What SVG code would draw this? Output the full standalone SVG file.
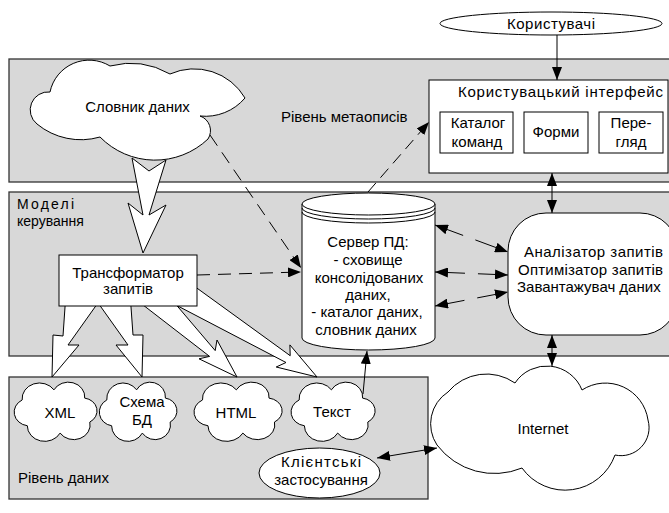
<svg xmlns="http://www.w3.org/2000/svg" width="669" height="513" viewBox="0 0 669 513">
<style>
.band{fill:#d8d8d8;stroke:#333;stroke-width:1.3}
.box{fill:#fff;stroke:#000;stroke-width:1}
.blk{fill:#fff;stroke:#000;stroke-width:1;stroke-linejoin:miter}
.t{font-family:"Liberation Sans",Arial,sans-serif;font-size:15px;fill:#000}
.s{font-size:14px}
.m{text-anchor:middle}
.ln{fill:none;stroke:#000;stroke-width:1}
.d1{stroke-dasharray:13,8}
.d2{stroke-dasharray:12,7}
.d3{stroke-dasharray:30,13}
</style>
<defs>
<marker id="ah" viewBox="0 0 13 10" refX="13" refY="5" markerWidth="13" markerHeight="10" markerUnits="userSpaceOnUse" orient="auto-start-reverse">
<path d="M0,0 L13,5 L0,10 z" fill="#000" stroke="none"/>
</marker>
<path id="sc" d="M-33,-12 A17,17 0 0 1 -2,-23 A16,16 0 0 1 28,-14 A14,14 0 0 1 33,12 A16,16 0 0 1 4,24 A17,17 0 0 1 -28,16 A15,15 0 0 1 -33,-12 Z" fill="#fff" stroke="#000" stroke-width="1" vector-effect="non-scaling-stroke"/>
</defs>

<g id="bands">
<rect id="band-meta" class="band" x="9" y="59" width="670" height="123"/>
<rect id="band-models" class="band" x="9" y="192" width="670" height="164"/>
<rect id="band-data" class="band" x="9" y="377" width="419" height="122"/>
<text class="t" x="281" y="122">Рівень метаописів</text>
<text class="t s" x="17" y="209" textLength="57">Моделі</text>
<text class="t s" x="17" y="226">керування</text>
<text class="t" x="18" y="483">Рівень даних</text>
</g>

<g id="block-arrows">
<polygon class="blk" points="132,158 143,215 128,203 143,253 166,205 149,215 166,160 149,171"/>
<polygon class="blk" points="65.5,300 63,336 53,335 52,377 79,345 68,345 100,300"/>
<polygon class="blk" points="96,300 128,345 116,345 142,377 143,335 133,335 130.5,300"/>
<polygon class="blk" points="159,284.6 215.2,350.6 217,340 237,377 199,358.8 209.6,356.4 141,303.4"/>
<polygon class="blk" points="189.9,283 290.2,355.7 289.9,344.9 317,377 276.2,367 286,362.5 176.1,305.1"/>
</g>

<g id="users">
<ellipse class="box" cx="551" cy="23.5" rx="111" ry="11.5"/>
<text class="t m" x="551" y="28.5" textLength="88">Користувачі</text>
</g>

<g id="ui">
<rect class="box" x="429" y="80" width="239" height="93"/>
<text class="t" x="458" y="97" textLength="205">Користувацький інтерфейс</text>
</g>
<g id="ui-catalog">
<rect class="box" x="440" y="112" width="73" height="41"/>
<text class="t m" x="478" y="128">Каталог</text>
<text class="t m" x="477" y="147">команд</text>
</g>
<g id="ui-forms">
<rect class="box" x="524" y="112" width="64" height="41"/>
<text class="t m" x="556" y="137">Форми</text>
</g>
<g id="ui-view">
<rect class="box" x="599" y="112" width="64" height="41"/>
<text class="t m" x="631" y="128">Пере-</text>
<text class="t m" x="631" y="147">гляд</text>
</g>

<g id="dictionary">
<path class="box" d="M37,124 A18,18 0 0 1 50,92 A40,40 0 0 1 110,66 A80,80 0 0 1 170,74 A59,59 0 0 1 245,98 A52,52 0 0 1 200,116 A15.4,15.4 0 0 1 208,139 A77,77 0 0 1 100,137 A69,69 0 0 1 37,124 Z"/>
<text class="t m" x="137.5" y="112">Словник даних</text>
</g>

<g id="transformer">
<rect class="box" x="59" y="255" width="138" height="51"/>
<text class="t m" x="128" y="278">Трансформатор</text>
<text class="t m" x="128" y="294">запитів</text>
</g>

<g id="server">
<path class="box" d="M302,204 L302,338 A66.5,12 0 0 0 435,338 L435,204 Z"/>
<ellipse class="box" cx="368.5" cy="204" rx="66.5" ry="11"/>
<path class="ln" d="M302,208 A66.5,11 0 0 0 435,208 M302,212 A66.5,11 0 0 0 435,212"/>
<text class="t m" x="368" y="247">Сервер ПД:</text>
<text class="t m" x="368" y="265">- сховище</text>
<text class="t m" x="369" y="283">консолідованих</text>
<text class="t m" x="368" y="300">даних,</text>
<text class="t m" x="367" y="317">- каталог даних,</text>
<text class="t m" x="366" y="335">словник даних</text>
</g>

<g id="analyzer">
<rect class="box" x="508" y="213" width="170" height="122" rx="38" ry="38"/>
<text class="t" x="524" y="257" textLength="139">Аналізатор запитів</text>
<text class="t" x="518" y="275" textLength="145">Оптимізатор запитів</text>
<text class="t" x="517" y="292">Завантажувач даних</text>
</g>

<g id="cloud-xml">
<use href="#sc" transform="translate(56,411) scale(1.025,0.92)"/>
<text class="t m" x="60" y="418">XML</text>
</g>
<g id="cloud-schema">
<use href="#sc" transform="translate(138.5,411) scale(0.96,0.92)"/>
<text class="t m" x="142" y="407">Схема</text>
<text class="t m" x="142" y="425">БД</text>
</g>
<g id="cloud-html">
<use href="#sc" transform="translate(238.5,411) scale(1.09,0.92)"/>
<text class="t m" x="236" y="418">HTML</text>
</g>
<g id="cloud-text">
<use href="#sc" transform="translate(333.5,411) scale(1.04,0.92)"/>
<text class="t m" x="332" y="417">Текст</text>
</g>

<g id="clients">
<ellipse class="box" cx="319.5" cy="473" rx="60.5" ry="25"/>
<text class="t m" x="321" y="467" textLength="80">Клієнтські</text>
<text class="t m" x="321" y="485">застосування</text>
</g>

<g id="internet">
<path class="box" d="M437,445 A38,38 0 0 1 448,392 A50,50 0 0 1 515,383 A38,38 0 0 1 582,390 A43,43 0 0 1 648,420 A28,28 0 0 1 615,455 A53,53 0 0 1 522,468 A72,72 0 0 1 437,445 Z"/>
<text class="t m" x="543" y="434">Internet</text>
</g>

<g id="connectors">
<line class="ln" x1="557" y1="35" x2="557" y2="80" marker-end="url(#ah)"/>
<line class="ln" x1="552" y1="173" x2="552" y2="213" marker-start="url(#ah)" marker-end="url(#ah)"/>
<line class="ln" x1="552" y1="335" x2="552" y2="366" marker-start="url(#ah)" marker-end="url(#ah)"/>
<line class="ln d1" x1="210" y1="135" x2="301" y2="268" marker-end="url(#ah)"/>
<line class="ln d1" x1="197" y1="275" x2="301" y2="272" marker-end="url(#ah)"/>
<line class="ln d2" x1="368" y1="192" x2="429" y2="122" marker-end="url(#ah)"/>
<line class="ln d3" x1="435" y1="225" x2="508" y2="252" marker-start="url(#ah)" marker-end="url(#ah)"/>
<line class="ln d3" x1="435" y1="272" x2="508" y2="275" marker-start="url(#ah)" marker-end="url(#ah)"/>
<line class="ln d3" x1="435" y1="306" x2="508" y2="292" marker-start="url(#ah)" marker-end="url(#ah)"/>
<line class="ln" x1="363" y1="394" x2="367" y2="351" marker-end="url(#ah)"/>
<line class="ln" x1="377" y1="458" x2="437" y2="448" marker-start="url(#ah)" marker-end="url(#ah)"/>
</g>
</svg>
